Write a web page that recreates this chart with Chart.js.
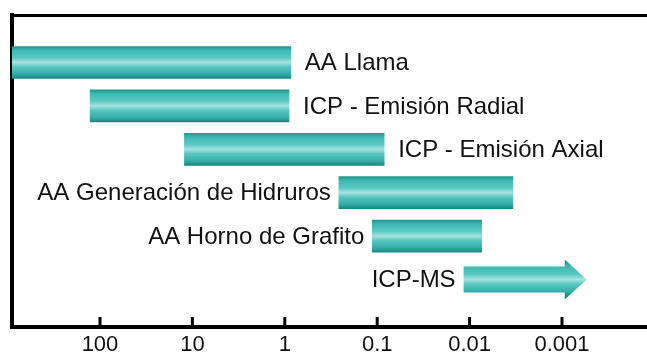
<!DOCTYPE html>
<html>
<head>
<meta charset="utf-8">
<script src="https://cdn.jsdelivr.net/npm/chart.js@4/dist/chart.umd.min.js"></script>
<style>
  html, body { margin: 0; padding: 0; background: #fff; overflow: hidden; }
  #outer { width: 647px; height: 353px; overflow: hidden; }
  #wrap { width: 653px; height: 353px; }
</style>
</head>
<body>
<div id="outer"><div id="wrap"><canvas id="RangeChart"></canvas></div></div>
<script>
// techniques, top to bottom
const techniques = ["AA Llama", "ICP - Emisión Radial", "ICP - Emisión Axial",
  "AA Generación de Hidruros", "AA Horno de Grafito", "ICP-MS"];
// upper end of working range (left side of the bar)
const rangeHigh = [1000, 128, 12.2, 0.26, 0.113, 0.0116];
// lower end of working range (right side of the bar)
const rangeLow = [0.86, 0.9, 0.084, 0.0034, 0.0074, 0.00054];
// axis ticks
const tickValues = [100, 10, 1, 0.1, 0.01, 0.001];
const tickLabels = ["100", "10", "1", "0.1", "0.01", "0.001"];

const ctx = document.getElementById("RangeChart");
const BAR_H = 32;
const VIEW_W = 647;
const labelFont = "24px 'Liberation Sans', Arial, sans-serif";

function barGradient(c, yc, h) {
  const g = c.createLinearGradient(0, yc - h / 2, 0, yc + h / 2);
  g.addColorStop(0, "#23958f");
  g.addColorStop(0.12, "#3db8b2");
  g.addColorStop(0.35, "#5cc9c3");
  g.addColorStop(0.5, "#a6e3df");
  g.addColorStop(0.64, "#58c6c0");
  g.addColorStop(0.86, "#33aea8");
  g.addColorStop(1, "#1b8781");
  return g;
}

// draws arrow for the last row + the text labels
const labelPlugin = {
  id: "labels",
  afterDatasetsDraw(chart) {
    const c = chart.ctx;
    const meta = chart.getDatasetMeta(0);
    meta.data.forEach(function (el, i) {
      const left = Math.min(el.x, el.base);
      const right = Math.max(el.x, el.base);
      const y = el.y;
      if (i === meta.data.length - 1) {
        // arrow
        const headL = 22, headH = 20, bodyH = 13;
        c.save();
        c.fillStyle = barGradient(c, y, headH * 2 - 6);
        c.beginPath();
        c.moveTo(left, y - bodyH);
        c.lineTo(right - headL, y - bodyH);
        c.lineTo(right - headL, y - headH);
        c.lineTo(right, y);
        c.lineTo(right - headL, y + headH);
        c.lineTo(right - headL, y + bodyH);
        c.lineTo(left, y + bodyH);
        c.closePath();
        c.fill();
        c.restore();
      }
      c.save();
      c.font = labelFont;
      c.fillStyle = "#111";
      c.textBaseline = "middle";
      const w = c.measureText(techniques[i]).width;
      if (right + 14 + w < VIEW_W) {
        c.textAlign = "left";
        c.fillText(techniques[i], right + 14, y + 1);
      } else {
        c.textAlign = "right";
        c.fillText(techniques[i], left - 8, y + 1);
      }
      c.restore();
    });
    // inward tick marks
    const xs = chart.scales.x;
    c.save();
    c.strokeStyle = "#000";
    c.lineWidth = 3;
    tickValues.forEach(function (v) {
      const px = xs.getPixelForValue(v);
      c.beginPath();
      c.moveTo(px, chart.chartArea.bottom);
      c.lineTo(px, chart.chartArea.bottom - 10);
      c.stroke();
    });
    c.restore();
  }
};

new Chart(ctx, {
  type: "bar",
  data: {
    datasets: [
      {
        data: techniques.map(function (t, i) {
          return { y: i, x: [rangeHigh[i], rangeLow[i]] };
        }),
        barThickness: BAR_H,
        borderWidth: 0,
        backgroundColor: function (context) {
          const chart = context.chart;
          if (!chart.chartArea) return "#3db8b2";
          if (context.dataIndex === techniques.length - 1) return "rgba(0,0,0,0)";
          const yc = chart.scales.y.getPixelForValue(context.dataIndex);
          return barGradient(chart.ctx, yc, BAR_H);
        },
      },
    ],
  },
  options: {
    indexAxis: "y",
    responsive: true,
    maintainAspectRatio: false,
    animation: false,
    layout: { padding: { left: 12, top: 15, right: 0, bottom: 0 } },
    plugins: { legend: { display: false }, tooltip: { enabled: false } },
    scales: {
      x: {
        type: "logarithmic",
        reverse: true,
        min: 0.0001035,
        max: 896,
        afterBuildTicks: function (scale) {
          scale.ticks = tickValues.map(function (v) { return { value: v }; });
        },
        afterFit: function (scale) { scale.height = 26; },
        grid: { display: false, drawTicks: false },
        border: { display: true, color: "#000", width: 4 },
        ticks: {
          padding: 5,
          color: "#111",
          font: { family: "'Liberation Sans', Arial, sans-serif", size: 22 },
          autoSkip: false,
          maxRotation: 0,
          callback: function (value) {
            const i = tickValues.indexOf(value);
            return i >= 0 ? tickLabels[i] : "";
          },
        },
      },
      xTop: {
        type: "linear",
        position: "top",
        axis: "x",
        grid: { display: false, drawTicks: false },
        border: { display: true, color: "#000", width: 3 },
        ticks: { display: false },
      },
      y: {
        type: "linear",
        reverse: true,
        min: -0.645,
        max: 5.645,
        grid: { display: false, drawTicks: false },
        border: { display: true, color: "#000", width: 4 },
        ticks: { display: false },
      },
    },
  },
  plugins: [labelPlugin],
});
</script>
</body>
</html>
